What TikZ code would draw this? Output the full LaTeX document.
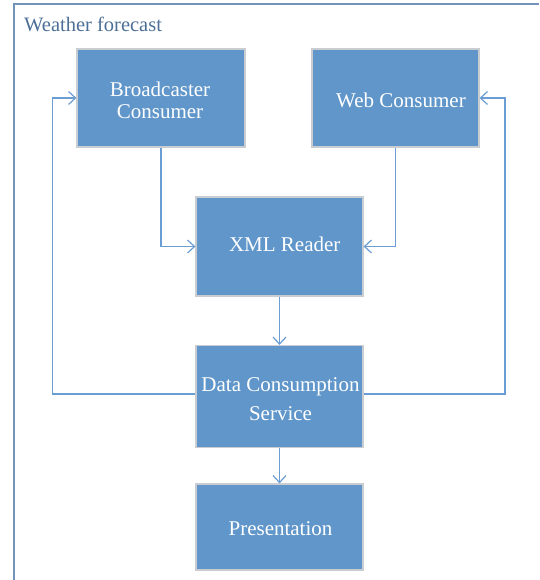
\documentclass[tikz,border=0pt]{standalone}
\usepackage{fontspec}
\setmainfont{Liberation Serif}
\usetikzlibrary{arrows.meta}
\definecolor{framec}{HTML}{7393B8}
\definecolor{boxfill}{HTML}{6096C9}
\definecolor{boxedge}{HTML}{C9CDD2}
\definecolor{linkc}{HTML}{6A9DD3}
\definecolor{titlec}{HTML}{4C6F96}
\begin{document}
\begin{tikzpicture}[x=1pt,y=-1pt,
  box/.style={draw=boxedge, line width=1.2pt, fill=boxfill, inner sep=0pt},
  lbl/.style={text=white, inner sep=0pt, anchor=base, align=center,
    font=\fontsize{21}{22}\selectfont},
  link/.style={draw=linkc, line width=1.2pt,
    -{Straight Barb[length=7pt,width=13pt,line width=1.2pt]}}]
\useasboundingbox (0,0) rectangle (539,580);

% outer frame
\coordinate (fbl) at (14,580);
\coordinate (ftl) at (14,4);
\coordinate (ftr) at (539,4);
\draw[framec, line width=2pt] (fbl) -- (ftl) -- (ftr);
\node[anchor=base west, text=titlec, inner sep=0pt,
  font=\fontsize{20.5}{24}\selectfont] (title) at (24,31.7) {Weather forecast};

% boxes
\node[box, minimum width=168pt, minimum height=98pt]  (bc)   at (161,98) {};
\node[box, minimum width=167pt, minimum height=98pt]  (wc)   at (395.5,98) {};
\node[box, minimum width=167pt, minimum height=99pt]  (xml)  at (279.5,246.5) {};
\node[box, minimum width=167pt, minimum height=102pt] (dcs)  at (279.5,396.5) {};
\node[box, minimum width=167pt, minimum height=86pt]  (pres) at (279.5,527) {};

% box texts (base anchor sits on the last line)
\node[lbl] (bcT)   at (160,118.3)  {Broadcaster\\Consumer};
\node[lbl] (wcT)   at (401,108)    {Web Consumer};
\node[lbl] (xmlT)  at (284.7,251.7) {XML Reader};
\node[lbl, font=\fontsize{21}{29}\selectfont] (dcsT) at (280.5,420) {Data Consumption\\Service};
\node[lbl] (presT) at (280.5,535)  {Presentation};

% connectors
\draw[link] (bc.south) |- (xml.west);
\draw[link] (wc.south) |- (xml.east);
\draw[link] (xml.south) -- (dcs.north);
\draw[link] (dcs.south) -- (pres.north);
\coordinate (lb) at (52.5,394);
\coordinate (rb) at (505,394);
\draw[link] (dcs.west |- lb) -- (lb) |- (bc.west);
\draw[link] (dcs.east |- rb) -- (rb) |- (wc.east);
\end{tikzpicture}
\end{document}
